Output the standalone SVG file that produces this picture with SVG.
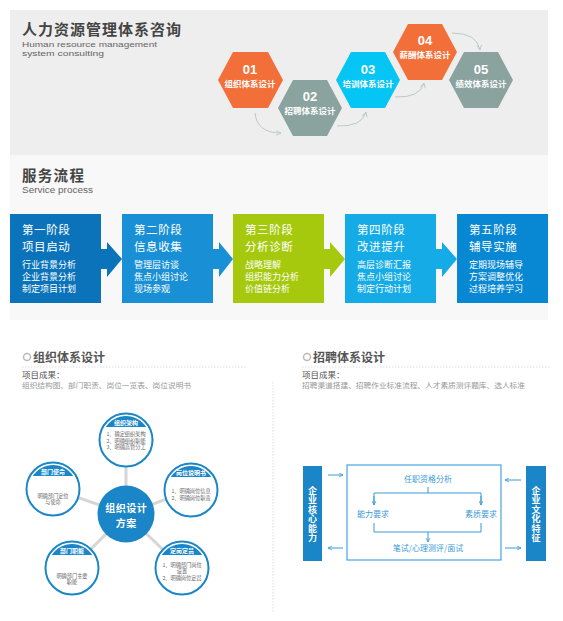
<svg xmlns="http://www.w3.org/2000/svg" width="563" height="621" viewBox="0 0 563 621">
<style>
.cn{font-family:"Noto Sans CJK SC","Liberation Sans",sans-serif}
.en{font-family:"Liberation Sans","DejaVu Sans",sans-serif}
.hnum{font-family:"Liberation Sans",sans-serif;font-weight:bold;font-size:13px;fill:#fff;text-anchor:middle}
.hlab{font-family:"Noto Sans CJK SC",sans-serif;font-weight:bold;font-size:8.5px;fill:#fff;text-anchor:middle}
.bt{font-family:"Noto Sans CJK SC",sans-serif;font-size:11.5px;letter-spacing:0.6px;fill:#fff}
.bs{font-family:"Noto Sans CJK SC",sans-serif;font-size:9px;fill:#fff}
.sat{fill:#fff;stroke:#1a86c8;stroke-width:2}
.band{fill:#1a86c8}
.bl{font-family:"Noto Sans CJK SC",sans-serif;font-weight:bold;font-size:6px;fill:#fff;text-anchor:middle}
.it{font-family:"Noto Sans CJK SC",sans-serif;font-size:5.2px;fill:#666;text-anchor:middle}
.rt{font-family:"Noto Sans CJK SC",sans-serif;font-size:8px;fill:#3a9ad9;text-anchor:middle}
.bar{fill:#1a86c8}
.vt{font-family:"Noto Sans CJK SC",sans-serif;font-weight:bold;font-size:9px;fill:#fff;writing-mode:vertical-rl;letter-spacing:0.5px}
.fl{stroke:#3a9ad9;stroke-width:1;fill:none}
.cv{stroke:#b9cbc7;stroke-width:1;fill:none}
</style>
<defs>
<marker id="ah" viewBox="0 0 10 10" refX="9" refY="5" markerWidth="6" markerHeight="6" orient="auto">
<path d="M1,1 L9,5 L1,9" fill="none" stroke="#b9cbc7" stroke-width="1.5"/>
</marker>
<marker id="ab" viewBox="0 0 10 10" refX="9" refY="5" markerWidth="5" markerHeight="5" orient="auto">
<path d="M1,1 L9,5 L1,9" fill="none" stroke="#3a9ad9" stroke-width="1.6"/>
</marker>
</defs>

<!-- section backgrounds -->
<rect x="10" y="10" width="538" height="145" fill="#eeeeee"/>
<rect x="10" y="155" width="538" height="165" fill="#f8f8f8"/>

<!-- header -->
<text x="22" y="35" class="cn" font-size="15" font-weight="bold" fill="#444" letter-spacing="1">人力资源管理体系咨询</text>
<text class="en" font-size="8" fill="#666"><tspan x="22" y="47" textLength="135" lengthAdjust="spacingAndGlyphs">Human resource management</tspan><tspan x="22" y="56" textLength="82" lengthAdjust="spacingAndGlyphs">system consulting</tspan></text>

<!-- hex connectors -->
<g id="hex-connectors">
<path class="cv" d="M255,113 Q257,133 281,133" marker-end="url(#ah)"/>
<path class="cv" d="M337,126 Q362,127 366,112" marker-end="url(#ah)"/>
<path class="cv" d="M395,97 Q420,98 424,83" marker-end="url(#ah)"/>
<path class="cv" d="M452,33 Q477,33 480,50" marker-end="url(#ah)"/>
</g>

<g id="hex01">
<polygon points="218,80 233,52 268,52 283,80 268,108 233,108" fill="#f36f39"/>
<text x="250" y="74" class="hnum">01</text>
<text x="250" y="87" class="hlab">组织体系设计</text>
</g>
<g id="hex02">
<polygon points="278,108 293,80 327,80 342,108 327,136 293,136" fill="#8ba39e"/>
<text x="310" y="101" class="hnum">02</text>
<text x="310" y="114" class="hlab">招聘体系设计</text>
</g>
<g id="hex03">
<polygon points="336,80 351,52 385,52 400,80 385,108 351,108" fill="#04c5f3"/>
<text x="368" y="74" class="hnum">03</text>
<text x="368" y="87" class="hlab">培训体系设计</text>
</g>
<g id="hex04">
<polygon points="393,52 408,24 442,24 457,52 442,80 408,80" fill="#f36f39"/>
<text x="425" y="45" class="hnum">04</text>
<text x="425" y="58" class="hlab">薪酬体系设计</text>
</g>
<g id="hex05">
<polygon points="449,80 464,52 498,52 513,80 498,108 464,108" fill="#8ba39e"/>
<text x="481" y="74" class="hnum">05</text>
<text x="481" y="87" class="hlab">绩效体系设计</text>
</g>

<!-- service process -->
<text x="22" y="181" class="cn" font-size="14.5" font-weight="bold" fill="#444" letter-spacing="1.3">服务流程</text>
<text x="22" y="193" class="en" font-size="8.5" fill="#666" textLength="71" lengthAdjust="spacingAndGlyphs">Service process</text>

<g id="process-arrows">
<polygon points="101,249 107,249 107,242 122,259 107,277 107,269 101,269" fill="#0b73b9"/>
<polygon points="213,249 219,249 219,242 233,259 219,277 219,269 213,269" fill="#1990d5"/>
<polygon points="324,249 330,249 330,242 345,259 330,277 330,269 324,269" fill="#a6c90e"/>
<polygon points="436,249 442,249 442,242 457,259 442,277 442,269 436,269" fill="#14abe6"/>
</g>

<g id="stage1">
<rect x="10" y="214" width="91" height="89" fill="#0b73b9"/>
<text class="bt"><tspan x="22" y="234">第一阶段</tspan><tspan x="22" y="251">项目启动</tspan></text>
<text class="bs"><tspan x="22" y="268">行业背景分析</tspan><tspan x="22" y="280">企业背景分析</tspan><tspan x="22" y="292">制定项目计划</tspan></text>
</g>
<g id="stage2">
<rect x="122" y="214" width="91" height="89" fill="#1990d5"/>
<text class="bt"><tspan x="134" y="234">第二阶段</tspan><tspan x="134" y="251">信息收集</tspan></text>
<text class="bs"><tspan x="134" y="268">管理层访谈</tspan><tspan x="134" y="280">焦点小组讨论</tspan><tspan x="134" y="292">现场参观</tspan></text>
</g>
<g id="stage3">
<rect x="233" y="214" width="91" height="89" fill="#a6c90e"/>
<text class="bt"><tspan x="245" y="234">第三阶段</tspan><tspan x="245" y="251">分析诊断</tspan></text>
<text class="bs"><tspan x="245" y="268">战略理解</tspan><tspan x="245" y="280">组织能力分析</tspan><tspan x="245" y="292">价值链分析</tspan></text>
</g>
<g id="stage4">
<rect x="345" y="214" width="91" height="89" fill="#14abe6"/>
<text class="bt"><tspan x="357" y="234">第四阶段</tspan><tspan x="357" y="251">改进提升</tspan></text>
<text class="bs"><tspan x="357" y="268">高层诊断汇报</tspan><tspan x="357" y="280">焦点小组讨论</tspan><tspan x="357" y="292">制定行动计划</tspan></text>
</g>
<g id="stage5">
<rect x="457" y="214" width="91" height="89" fill="#0887d2"/>
<text class="bt"><tspan x="469" y="234">第五阶段</tspan><tspan x="469" y="251">辅导实施</tspan></text>
<text class="bs"><tspan x="469" y="268">定期现场辅导</tspan><tspan x="469" y="280">方案调整优化</tspan><tspan x="469" y="292">过程培养学习</tspan></text>
</g>

<!-- bottom-left header -->
<circle cx="27" cy="357" r="3.5" fill="none" stroke="#bbb" stroke-width="1.5"/>
<text x="33" y="362" class="cn" font-size="12" font-weight="bold" fill="#555">组织体系设计</text>
<line x1="22" y1="367" x2="246" y2="367" stroke="#ddd" stroke-width="1" stroke-dasharray="1.5,1.5"/>
<text x="22" y="378" class="cn" font-size="8.5" fill="#555">项目成果：</text>
<text x="22" y="388" class="cn" font-size="7" fill="#999" textLength="169" lengthAdjust="spacingAndGlyphs">组织结构图、部门职责、岗位一览表、岗位说明书</text>

<!-- bottom-right header -->
<circle cx="307" cy="357" r="3.5" fill="none" stroke="#bbb" stroke-width="1.5"/>
<text x="313" y="362" class="cn" font-size="12" font-weight="bold" fill="#555">招聘体系设计</text>
<line x1="302" y1="367" x2="550" y2="367" stroke="#ddd" stroke-width="1" stroke-dasharray="1.5,1.5"/>
<text x="302" y="378" class="cn" font-size="8.5" fill="#555">项目成果：</text>
<text x="302" y="388" class="cn" font-size="7" fill="#999" textLength="223" lengthAdjust="spacingAndGlyphs">招聘渠道搭建、招聘作业标准流程、人才素质测评题库、选人标准</text>

<line x1="273" y1="382" x2="273" y2="612" stroke="#ddd" stroke-width="1" stroke-dasharray="1.5,1.5"/>

<!-- org design diagram -->
<g id="org-connectors" stroke="#d6d6d6" stroke-width="3" stroke-linecap="round">
<line x1="126" y1="514" x2="126" y2="440"/>
<line x1="126" y1="514" x2="53" y2="489"/>
<line x1="126" y1="514" x2="191" y2="490"/>
<line x1="126" y1="514" x2="72" y2="568"/>
<line x1="126" y1="514" x2="182" y2="568"/>
</g>

<g id="org-top">
<circle cx="126" cy="440" r="26.5" class="sat"/>
<path d="M105.8,427 A24,24 0 0 1 146.2,427 Z" class="band"/>
<text x="126" y="425" class="bl">组织架构</text>
<text class="it"><tspan x="126" y="436">1、确定组织架构</tspan><tspan x="126" y="442.5">2、明确组织职能</tspan><tspan x="126" y="449">3、明确高管分工</tspan></text>
</g>
<g id="org-left">
<circle cx="53" cy="489" r="26.5" class="sat"/>
<path d="M32.8,476 A24,24 0 0 1 73.2,476 Z" class="band"/>
<text x="53" y="474" class="bl">部门使命</text>
<text class="it"><tspan x="53" y="497.5">明确部门定位</tspan><tspan x="53" y="504">与使命</tspan></text>
</g>
<g id="org-right">
<circle cx="191" cy="490" r="26.5" class="sat"/>
<path d="M170.8,477 A24,24 0 0 1 211.2,477 Z" class="band"/>
<text x="191" y="475" class="bl">岗位说明书</text>
<text class="it"><tspan x="191" y="493">1、明确岗位信息</tspan><tspan x="191" y="500">2、明确岗位职责</tspan></text>
</g>
<g id="org-bottom-left">
<circle cx="72" cy="568" r="26.5" class="sat"/>
<path d="M51.8,555 A24,24 0 0 1 92.2,555 Z" class="band"/>
<text x="72" y="553" class="bl">部门职能</text>
<text class="it"><tspan x="72" y="577.5">明确部门主要</tspan><tspan x="72" y="584">职能</tspan></text>
</g>
<g id="org-bottom-right">
<circle cx="182" cy="568" r="26.5" class="sat"/>
<path d="M161.8,555 A24,24 0 0 1 202.2,555 Z" class="band"/>
<text x="182" y="553" class="bl">定岗定员</text>
<text class="it"><tspan x="182" y="566.5">1、明确部门岗位</tspan><tspan x="182" y="573">设置</tspan><tspan x="182" y="580">2、明确岗位定员</tspan></text>
</g>
<g id="org-center">
<circle cx="126" cy="514" r="28.5" fill="#1a86c8"/>
<text class="cn" font-size="10" font-weight="bold" fill="#fff" text-anchor="middle" letter-spacing="0.5"><tspan x="126.25" y="512">组织设计</tspan><tspan x="126.25" y="527">方案</tspan></text>
</g>

<!-- recruitment diagram -->
<g id="bar-left">
<rect x="303" y="466" width="19" height="95" class="bar"/>
<text x="312.5" y="486" class="vt">企业核心能力</text>
</g>
<g id="bar-right">
<rect x="526" y="466" width="20" height="95" class="bar"/>
<text x="536" y="486" class="vt">企业文化特征</text>
</g>
<g id="frame">
<rect x="347" y="465" width="154" height="95" fill="#fff" stroke="#4aa3dc" stroke-width="1.2"/>
<text x="428" y="482" class="rt">任职资格分析</text>
<text x="373" y="517" class="rt">能力要求</text>
<text x="481" y="517" class="rt">素质要求</text>
<text x="428" y="551" class="rt">笔试/心理测评/面试</text>
</g>
<g id="connectors">
<line x1="328" y1="475" x2="343" y2="475" class="fl" marker-end="url(#ab)"/>
<line x1="343" y1="548" x2="328" y2="548" class="fl" marker-end="url(#ab)"/>
<line x1="521" y1="480" x2="505" y2="480" class="fl" marker-end="url(#ab)"/>
<line x1="505" y1="548" x2="521" y2="548" class="fl" marker-end="url(#ab)"/>
<polyline points="428,487 428,493" class="fl"/>
<polyline points="374,505 374,493 481,493 481,505" class="fl"/>
<line x1="374" y1="496" x2="374" y2="505" class="fl" marker-end="url(#ab)"/>
<line x1="481" y1="496" x2="481" y2="505" class="fl" marker-end="url(#ab)"/>
<polyline points="374,523 374,532 481,532 481,523" class="fl"/>
<line x1="428" y1="532" x2="428" y2="542" class="fl" marker-end="url(#ab)"/>
</g>
</svg>
